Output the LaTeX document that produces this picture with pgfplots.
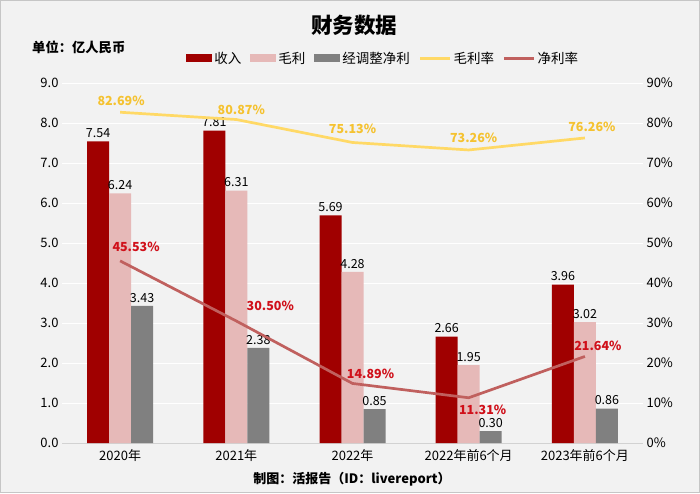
\documentclass[border=0pt]{standalone}
\usepackage{fontspec}
\setmainfont{Noto Sans CJK SC}
\usepackage{pgfplots}
\pgfplotsset{compat=1.18}
\definecolor{rev}{HTML}{A00000}
\definecolor{gross}{HTML}{E6B9B8}
\definecolor{net}{HTML}{808080}
\definecolor{gm}{HTML}{FFD966}
\definecolor{gmlab}{HTML}{F5C230}
\definecolor{nm}{HTML}{C0605E}
\definecolor{nmlab}{HTML}{D0101A}
\definecolor{bg}{HTML}{F2F2F2}
\tikzset{
  gmlabel/.style={font=\bfseries\fontsize{12.5}{14}\selectfont, text=gmlab, inner sep=0pt},
  nmlabel/.style={font=\bfseries\fontsize{12.5}{14}\selectfont, text=nmlab, inner sep=0pt},
}
\pgfplotsset{
  barleg/.style={legend image code/.code={\fill (0pt,-4pt) rectangle (26pt,4pt);}},
  lineleg/.style={legend image code/.code={\draw (0pt,0pt) -- (30pt,0pt);}},
}
\begin{document}
\begin{tikzpicture}
\fill[bg] (0pt,0pt) rectangle (700pt,493pt);
\draw[gray!45] (0.5pt,0.5pt) rectangle (699.5pt,492.5pt);
\node[font=\bfseries\fontsize{21.5}{24}\selectfont] at (354pt,468pt) {财务数据};
\node[font=\bfseries\fontsize{13.3}{15}\selectfont, anchor=west, inner sep=0pt] at (32pt,446pt) {单位：亿人民币};
\node[font=\bfseries\fontsize{13}{15}\selectfont] at (352pt,14pt) {制图：活报告（ID：livereport）};

\begin{axis}[at={(62pt,50pt)}, anchor=south west, width=581pt, height=360pt, scale only axis,
  ybar=0pt, bar width=22pt,
  xmin=-0.5, xmax=4.5, ymin=0, ymax=9, ytick={0,1,...,9},
  xtick={0,1,2,3,4},
  xticklabels={2020年,2021年,2022年,2022年前6个月,2023年前6个月},
  xticklabel style={yshift=-3pt},
  yticklabel style={/pgf/number format/.cd, fixed, fixed zerofill, precision=1, assume math mode=true},
  tick label style={font=\fontsize{13}{15}\selectfont},
  axis x line*=bottom, axis y line*=left,
  y axis line style={draw=none},
  x axis line style={draw=gray!35, line width=1pt},
  major tick length=0pt,
  ymajorgrids, grid style={white, line width=1pt},
  nodes near coords,
  every node near coord/.append style={font=\fontsize{12.5}{14}\selectfont, black,
     /pgf/number format/.cd, fixed, fixed zerofill, precision=2, assume math mode=true},
  clip=false,
]
\addplot[fill=rev, draw=none] coordinates {(0,7.54)(1,7.81)(2,5.69)(3,2.66)(4,3.96)};
\addplot[fill=gross, draw=none] coordinates {(0,6.24)(1,6.31)(2,4.28)(3,1.95)(4,3.02)};
\addplot[fill=net, draw=none] coordinates {(0,3.43)(1,2.38)(2,0.85)(3,0.30)(4,0.86)};
\end{axis}

\begin{axis}[at={(62pt,50pt)}, anchor=south west, width=581pt, height=360pt, scale only axis,
  xmin=-0.5, xmax=4.5, ymin=0, ymax=90, ytick={0,10,...,90},
  axis x line=none, axis y line*=right,
  y axis line style={draw=none},
  major tick length=0pt,
  yticklabel={\pgfmathprintnumber[assume math mode=true]{\tick}\%},
  tick label style={font=\fontsize{13}{15}\selectfont},
  clip=false,
  legend columns=-1,
  legend style={draw=none, fill=none, at={(0.553,1.069)}, anchor=center,
     font=\fontsize{13.5}{15}\selectfont,
     /tikz/every even column/.append style={column sep=7pt}},
  legend cell align=left,
]
\addlegendimage{barleg, fill=rev, draw=none}
\addlegendentry{收入}
\addlegendimage{barleg, fill=gross, draw=none}
\addlegendentry{毛利}
\addlegendimage{barleg, fill=net, draw=none}
\addlegendentry{经调整净利}
\addplot[gm, line width=2.7pt, lineleg] coordinates {(0,82.69)(1,80.87)(2,75.13)(3,73.26)(4,76.26)};
\addlegendentry{毛利率}
\addplot[nm, line width=2.7pt, lineleg] coordinates {(0,45.53)(1,30.50)(2,14.89)(3,11.31)(4,21.64)};
\addlegendentry{净利率}
\node[gmlabel, xshift=1pt, yshift=11pt] at (axis cs:0,82.69) {82.69\%};
\node[gmlabel, xshift=5pt, yshift=10pt] at (axis cs:1,80.87) {80.87\%};
\node[gmlabel, xshift=0pt, yshift=14pt] at (axis cs:2,75.13) {75.13\%};
\node[gmlabel, xshift=5pt, yshift=12pt] at (axis cs:3,73.26) {73.26\%};
\node[gmlabel, xshift=7pt, yshift=11pt] at (axis cs:4,76.26) {76.26\%};
\node[nmlabel, xshift=16pt, yshift=14pt] at (axis cs:0,45.53) {45.53\%};
\node[nmlabel, xshift=34pt, yshift=15pt] at (axis cs:1,30.50) {30.50\%};
\node[nmlabel, xshift=18pt, yshift=10pt] at (axis cs:2,14.89) {14.89\%};
\node[nmlabel, xshift=14pt, yshift=-12pt] at (axis cs:3,11.31) {11.31\%};
\node[nmlabel, xshift=13pt, yshift=11pt] at (axis cs:4,21.64) {21.64\%};
\end{axis}
\end{tikzpicture}
\end{document}
